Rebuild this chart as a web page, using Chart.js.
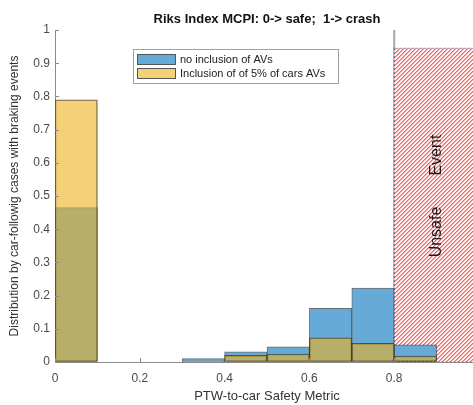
<!DOCTYPE html>
<html>
<head>
<meta charset="utf-8">
<script src="https://cdn.jsdelivr.net/npm/chart.js@4/dist/chart.umd.min.js"></script>
<style>
  html, body { margin:0; padding:0; background:#fff; }
  #wrap { width:473px; height:405px; overflow:hidden; position:relative; }
  canvas { display:block; }
</style>
</head>
<body>
<div id="wrap"><canvas id="c" width="500" height="405" style="width:500px;height:405px"></canvas></div>
<script>
// ---- data ----
const binCenters   = [0.05, 0.15, 0.25, 0.35, 0.45, 0.55, 0.65, 0.75, 0.85, 0.95];
const noAVs        = [0.465, 0, 0, 0.010, 0.031, 0.046, 0.162, 0.223, 0.052, 0];
const avs5pct      = [0.790, 0, 0, 0.003, 0.020, 0.024, 0.073, 0.056, 0.018, 0];
const seriesNames  = ['no inclusion of AVs', 'Inclusion of of 5% of cars AVs'];
const unsafeX      = [0.8, 1.0];
const unsafeLevel  = [0.945];
const markerLineX  = [0.8];
const xTickValues  = [0, 0.2, 0.4, 0.6, 0.8, 1];
const xTickLabels  = ['0', '0.2', '0.4', '0.6', '0.8', ''];
const yTickValues  = [0, 0.1, 0.2, 0.3, 0.4, 0.5, 0.6, 0.7, 0.8, 0.9, 1];
const yTickLabels  = ['0', '0.1', '0.2', '0.3', '0.4', '0.5', '0.6', '0.7', '0.8', '0.9', '1'];
const titleText    = 'Riks Index MCPI: 0-> safe;  1-> crash';
const xTitle       = 'PTW-to-car Safety Metric';
const yTitle       = 'Distribution by car-followig cases with braking events';
const unsafeLabel  = 'Unsafe       Event';

const FONT = '"Liberation Sans", Arial, Helvetica, sans-serif';
const BLUE_SOLID = '#66aad7';
const YELLOW = 'rgba(237,177,32,0.6)';
const YELLOW_SOLID = '#f4d079';
const EDGE = 'rgba(45,45,45,0.7)';

function makeHatch() {
  const n = 4;
  const shades = [[255, 160, 160], [255, 250, 250], [255, 250, 250], [255, 95, 95]];
  const c = document.createElement('canvas'); c.width = n; c.height = n;
  const g = c.getContext('2d');
  const img = g.createImageData(n, n);
  for (let yy = 0; yy < n; yy++) {
    for (let xx = 0; xx < n; xx++) {
      const k = (yy * n + xx) * 4;
      const s = shades[(xx + yy) % n];
      img.data[k] = s[0]; img.data[k + 1] = s[1]; img.data[k + 2] = s[2]; img.data[k + 3] = 255;
    }
  }
  g.putImageData(img, 0, 0);
  return g.createPattern(c, 'repeat');
}
const hatch = makeHatch();

const pts = (xs, ys) => xs.map((x, i) => ({x, y: ys[i]}));

const extras = {
  id: 'extras',
  afterDraw(chart) {
    const ctx = chart.ctx, a = chart.chartArea, xs = chart.scales.x, ys = chart.scales.y;
    ctx.save();
    // inward tick marks
    ctx.strokeStyle = '#8a8a8a'; ctx.lineWidth = 1;
    yTickValues.forEach(v => {
      const y = Math.round(ys.getPixelForValue(v)) + 0.5;
      ctx.beginPath(); ctx.moveTo(a.left, y); ctx.lineTo(a.left + 4, y); ctx.stroke();
    });
    xTickValues.forEach(v => {
      const x = Math.round(xs.getPixelForValue(v)) + 0.5;
      ctx.beginPath(); ctx.moveTo(x, a.bottom); ctx.lineTo(x, a.bottom - 4); ctx.stroke();
    });
    // title
    ctx.fillStyle = '#111';
    ctx.font = 'bold 13px ' + FONT;
    ctx.textAlign = 'center'; ctx.textBaseline = 'middle';
    ctx.fillText(titleText, (a.left + a.right) / 2, 19);
    // unsafe label
    ctx.save();
    const cx = xs.getPixelForValue(0.9), cy = ys.getPixelForValue(0.5);
    ctx.translate(cx, cy); ctx.rotate(-Math.PI / 2);
    ctx.font = '16px ' + FONT; ctx.fillStyle = '#1a1a1a';
    ctx.fillText(unsafeLabel, 0, 0);
    ctx.restore();
    // legend
    const lx = 133.5, ly = 49.5, lw = 205, lh = 34;
    ctx.fillStyle = '#fff'; ctx.fillRect(lx, ly, lw, lh);
    ctx.strokeStyle = '#a0a0a0'; ctx.lineWidth = 1; ctx.strokeRect(lx, ly, lw, lh);
    const items = [[BLUE_SOLID, seriesNames[0], 54], [YELLOW_SOLID, seriesNames[1], 68]];
    ctx.font = '11px ' + FONT; ctx.textAlign = 'left';
    items.forEach(([col, txt, y]) => {
      ctx.fillStyle = col; ctx.fillRect(137.5, y + 0.5, 38, 10);
      ctx.strokeStyle = '#555'; ctx.strokeRect(137.5, y + 0.5, 38, 10);
      ctx.fillStyle = '#222'; ctx.fillText(txt, 180, y + 6);
    });
    ctx.restore();
  }
};

new Chart(document.getElementById('c'), {
  type: 'bar',
  data: {
    datasets: [
      { type: 'line', label: 'marker', data: [{x: markerLineX[0], y: 0}, {x: markerLineX[0], y: 1}],
        borderColor: '#a8a8a8', borderWidth: 2, pointRadius: 0, fill: false, order: 5 },
      { type: 'line', label: 'unsafe', data: pts(unsafeX, [unsafeLevel[0], unsafeLevel[0]]),
        borderWidth: 0, borderColor: 'rgba(0,0,0,0)', backgroundColor: hatch, pointRadius: 0,
        fill: { target: 'origin', above: hatch, below: hatch }, order: 4 },
      { type: 'line', label: 'unsafe-edge',
        data: [{x: unsafeX[0], y: 0}, {x: unsafeX[0], y: unsafeLevel[0]}, {x: unsafeX[1], y: unsafeLevel[0]}, {x: unsafeX[1], y: 0}, {x: unsafeX[0], y: 0}],
        borderColor: 'rgba(80,105,175,0.8)', borderWidth: 1.2, borderDash: [2, 2], pointRadius: 0, fill: false, order: 3 },
      { label: seriesNames[0], data: pts(binCenters, noAVs), backgroundColor: BLUE_SOLID,
        borderColor: EDGE, borderWidth: 1, borderSkipped: false, order: 2, grouped: false,
        barPercentage: 1, categoryPercentage: 1 },
      { label: seriesNames[1], data: pts(binCenters, avs5pct), backgroundColor: YELLOW,
        borderColor: EDGE, borderWidth: 1, borderSkipped: false, order: 1, grouped: false,
        barPercentage: 1, categoryPercentage: 1 }
    ]
  },
  options: {
    responsive: false, animation: false, devicePixelRatio: 1,
    layout: { padding: { left: 0, right: 21, top: 30, bottom: 0 } },
    plugins: { legend: { display: false }, title: { display: false }, tooltip: { enabled: false } },
    scales: {
      x: {
        type: 'linear', min: 0, max: 1, offset: false,
        afterBuildTicks: s => { s.ticks = xTickValues.map(v => ({value: v})); },
        afterFit: s => { s.height = 43; },
        ticks: { callback: (v) => xTickLabels[xTickValues.indexOf(v)] ?? '', color: '#4a4a4a',
                 font: { family: FONT, size: 12 }, padding: 9, maxRotation: 0, autoSkip: false },
        grid: { display: true, drawOnChartArea: false, drawTicks: false },
        border: { display: true, color: '#8a8a8a', width: 1 },
        title: { display: true, text: xTitle, color: '#333', font: { family: FONT, size: 13 }, padding: { top: 0, bottom: 1 } }
      },
      y: {
        type: 'linear', min: 0, max: 1,
        afterBuildTicks: s => { s.ticks = yTickValues.map(v => ({value: v})); },
        afterFit: s => { s.width = 55; },
        ticks: { callback: (v) => yTickLabels[yTickValues.findIndex(t => Math.abs(t - v) < 1e-9)] ?? '', color: '#4a4a4a',
                 font: { family: FONT, size: 12 }, padding: 5, autoSkip: false },
        grid: { display: true, drawOnChartArea: false, drawTicks: false },
        border: { display: true, color: '#8a8a8a', width: 1 },
        title: { display: true, text: yTitle, color: '#333', font: { family: FONT, size: 12 }, padding: { top: 7, bottom: 0 } }
      }
    }
  },
  plugins: [extras]
});
</script>
</body>
</html>
